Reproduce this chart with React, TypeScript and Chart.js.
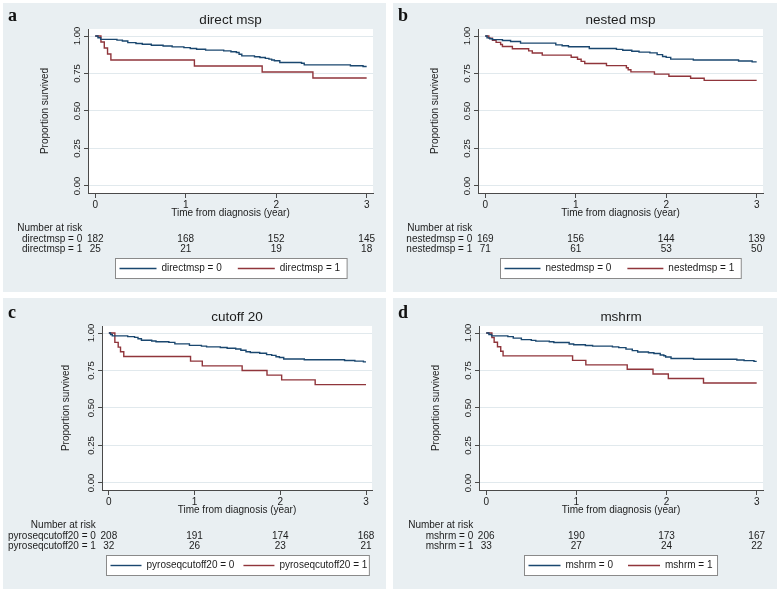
import React, { useEffect, useRef } from "react";
import { Chart, registerables } from "chart.js";
Chart.register(...registerables);

// ---------- shared axis data ----------
const xTicks = [0, 1, 2, 3];
const yTicks = [0, 0.25, 0.5, 0.75, 1];
const riskTimes = [0, 1, 2, 3];
const xTitle = "Time from diagnosis (year)";
const yTitle = "Proportion survived";
const riskHeader = "Number at risk";

// ---------- panel a ----------
const aTitle = "direct msp";
const aLabels = ["directmsp = 0", "directmsp = 1"];
const aBlue = [[0,1],[0.03,0.989],[0.06,0.978],[0.24,0.973],[0.30,0.967],[0.36,0.956],[0.45,0.950],[0.52,0.945],[0.62,0.939],[0.75,0.934],[0.85,0.928],[0.98,0.923],[1.05,0.917],[1.12,0.912],[1.22,0.906],[1.42,0.901],[1.50,0.895],[1.56,0.890],[1.59,0.879],[1.62,0.868],[1.76,0.862],[1.82,0.857],[1.88,0.851],[1.92,0.846],[1.95,0.840],[1.98,0.835],[2.04,0.824],[2.28,0.819],[2.31,0.808],[2.82,0.802],[2.96,0.797],[3.0,0.797]];
const aRed = [[0,1],[0.063,0.96],[0.10,0.92],[0.136,0.88],[0.173,0.84],[1.096,0.80],[1.845,0.76],[2.406,0.72],[3.0,0.72]];
const aRisk0 = [182, 168, 152, 145];
const aRisk1 = [25, 21, 19, 18];

// ---------- panel b ----------
const bTitle = "nested msp";
const bLabels = ["nestedmsp = 0", "nestedmsp = 1"];
const bBlue = [[0,1],[0.02,0.988],[0.05,0.982],[0.08,0.976],[0.19,0.970],[0.28,0.964],[0.39,0.953],[0.78,0.941],[0.85,0.935],[0.92,0.929],[1.15,0.917],[1.45,0.911],[1.52,0.905],[1.62,0.899],[1.70,0.893],[1.82,0.888],[1.90,0.876],[1.96,0.864],[2.0,0.858],[2.05,0.846],[2.30,0.840],[2.80,0.834],[2.95,0.828],[3.0,0.828]];
const bRed = [[0,1],[0.04,0.986],[0.08,0.972],[0.12,0.958],[0.17,0.944],[0.19,0.930],[0.30,0.915],[0.48,0.901],[0.52,0.887],[0.63,0.873],[0.95,0.859],[1.02,0.845],[1.06,0.831],[1.10,0.817],[1.34,0.803],[1.56,0.789],[1.58,0.775],[1.61,0.761],[1.87,0.746],[2.03,0.732],[2.27,0.718],[2.42,0.704],[3.0,0.704]];
const bRisk0 = [169, 156, 144, 139];
const bRisk1 = [71, 61, 53, 50];

// ---------- panel c ----------
const cTitle = "cutoff 20";
const cLabels = ["pyroseqcutoff20 = 0", "pyroseqcutoff20 = 1"];
const cBlue = [[0,1],[0.02,0.990],[0.04,0.981],[0.22,0.976],[0.30,0.971],[0.34,0.962],[0.38,0.952],[0.50,0.947],[0.55,0.942],[0.70,0.938],[0.77,0.928],[0.94,0.918],[1.08,0.913],[1.14,0.908],[1.30,0.904],[1.38,0.899],[1.48,0.894],[1.54,0.885],[1.60,0.875],[1.65,0.870],[1.76,0.865],[1.84,0.856],[1.90,0.851],[1.95,0.842],[1.99,0.837],[2.04,0.827],[2.28,0.822],[2.75,0.817],[2.87,0.813],[2.97,0.808],[3.0,0.808]];
const cRed = [[0,1],[0.07,0.9375],[0.109,0.906],[0.136,0.875],[0.174,0.844],[0.953,0.8125],[1.09,0.781],[1.555,0.75],[1.845,0.719],[2.016,0.6875],[2.407,0.656],[3.0,0.656]];
const cRisk0 = [208, 191, 174, 168];
const cRisk1 = [32, 26, 23, 21];

// ---------- panel d ----------
const dTitle = "mshrm";
const dLabels = ["mshrm = 0", "mshrm = 1"];
const dBlue = [[0,1],[0.03,0.990],[0.06,0.981],[0.24,0.976],[0.30,0.966],[0.39,0.956],[0.50,0.951],[0.55,0.946],[0.70,0.942],[0.75,0.937],[0.92,0.927],[0.97,0.922],[1.10,0.917],[1.18,0.913],[1.40,0.908],[1.47,0.903],[1.55,0.893],[1.62,0.883],[1.68,0.874],[1.80,0.869],[1.86,0.864],[1.93,0.854],[1.97,0.849],[1.99,0.840],[2.05,0.830],[2.30,0.825],[2.78,0.820],[2.86,0.816],[2.97,0.811],[3.0,0.811]];
const dRed = [[0,1],[0.063,0.970],[0.088,0.939],[0.125,0.909],[0.161,0.879],[0.187,0.848],[0.958,0.818],[1.105,0.788],[1.564,0.758],[1.85,0.727],[2.02,0.697],[2.41,0.667],[3.0,0.667]];
const dRisk0 = [206, 190, 173, 167];
const dRisk1 = [33, 27, 24, 22];

// ---------- styling ----------
const FONT = '"Liberation Sans", Arial, sans-serif';
const BG = "#e9eff2";
const GRID = "#e1e9ed";
const AXIS = "#4a4a4a";
const TEXT = "#1c1c1c";
const BLUE = "#1a476f";
const RED = "#90353b";

type PanelCfg = {
  letter: string; title: string; labels: string[];
  blue: number[][]; red: number[][]; risk0: number[]; risk1: number[];
  left: number; top: number; w: number; h: number;
  chartLeft: number; chartRight: number; dy: number; yAxisW: number;
  keyLen: number; itemGap: number; padR: number;
};

const panels: PanelCfg[] = [
  { letter: "a", title: aTitle, labels: aLabels, blue: aBlue, red: aRed, risk0: aRisk0, risk1: aRisk1, left: 3, top: 3, w: 383, h: 289, chartLeft: 85, chartRight: 370, dy: 0, yAxisW: 49, keyLen: 37, itemGap: 16, padR: 7 },
  { letter: "b", title: bTitle, labels: bLabels, blue: bBlue, red: bRed, risk0: bRisk0, risk1: bRisk1, left: 393, top: 3, w: 384, h: 289, chartLeft: 85, chartRight: 370, dy: 0, yAxisW: 49, keyLen: 36, itemGap: 16, padR: 7 },
  { letter: "c", title: cTitle, labels: cLabels, blue: cBlue, red: cRed, risk0: cRisk0, risk1: cRisk1, left: 3, top: 298, w: 383, h: 291, chartLeft: 99, chartRight: 369, dy: 2, yAxisW: 42, keyLen: 31, itemGap: 9, padR: 2 },
  { letter: "d", title: dTitle, labels: dLabels, blue: dBlue, red: dRed, risk0: dRisk0, risk1: dRisk1, left: 393, top: 298, w: 384, h: 291, chartLeft: 86, chartRight: 370, dy: 2, yAxisW: 49, keyLen: 32, itemGap: 15, padR: 5 },
];

const decoPlugin = {
  id: "kmDeco",
  beforeDraw(chart: any) {
    const { ctx, chartArea: ca, width, height } = chart;
    ctx.save();
    ctx.fillStyle = BG;
    ctx.fillRect(0, 0, width, height);
    ctx.fillStyle = "#ffffff";
    ctx.fillRect(ca.left, ca.top, ca.right - ca.left, ca.bottom - ca.top);
    ctx.restore();
  },
  afterDraw(chart: any, _args: any, opts: any) {
    const { ctx, chartArea: ca } = chart;
    const xs = chart.scales.x;
    ctx.save();
    // panel letter
    ctx.font = 'bold 18px "Liberation Serif", "Times New Roman", serif';
    ctx.fillStyle = "#111";
    ctx.textAlign = "left";
    ctx.textBaseline = "alphabetic";
    ctx.fillText(opts.letter, 5, 18 + opts.dy);

    // number at risk table
    ctx.font = `10px ${FONT}`;
    ctx.fillStyle = TEXT;
    ctx.textBaseline = "middle";
    const labX = xs.getPixelForValue(0) - 13;
    ctx.textAlign = "right";
    ctx.fillText(riskHeader, labX, ca.bottom + 35);
    const rows = [opts.risk0, opts.risk1];
    rows.forEach((vals: number[], i: number) => {
      const y = ca.bottom + 46 + i * 10.5;
      ctx.textAlign = "right";
      ctx.fillText(chart.data.datasets[i].label, labX, y);
      ctx.textAlign = "center";
      vals.forEach((v, j) => ctx.fillText(String(v), xs.getPixelForValue(riskTimes[j]), y));
    });

    // legend box
    const ds = chart.data.datasets;
    const lineLen = opts.keyLen, gap = 5, itemGap = opts.itemGap, padL = 4, padR = opts.padR;
    const w0 = ctx.measureText(ds[0].label).width;
    const w1 = ctx.measureText(ds[1].label).width;
    const boxW = padL + lineLen + gap + w0 + itemGap + lineLen + gap + w1 + padR;
    const cx = (ca.left + ca.right) / 2;
    const bx = Math.round(cx - boxW / 2) + 0.5;
    const by = Math.round(ca.bottom + 65) + 0.5;
    const bh = 20;
    ctx.fillStyle = "#ffffff";
    ctx.fillRect(bx, by, boxW, bh);
    ctx.strokeStyle = "#8a8a8a";
    ctx.lineWidth = 1;
    ctx.strokeRect(bx, by, boxW, bh);
    let x = bx + padL;
    const ly = by + bh / 2;
    [0, 1].forEach((k) => {
      ctx.strokeStyle = ds[k].borderColor;
      ctx.lineWidth = 1.4;
      ctx.beginPath();
      ctx.moveTo(x, ly);
      ctx.lineTo(x + lineLen, ly);
      ctx.stroke();
      x += lineLen + gap;
      ctx.fillStyle = TEXT;
      ctx.textAlign = "left";
      ctx.fillText(ds[k].label, x, ly);
      x += (k === 0 ? w0 : w1) + itemGap;
    });
    ctx.restore();
  },
};

function KMPanel({ cfg }: { cfg: PanelCfg }) {
  const ref = useRef<HTMLCanvasElement>(null);
  useEffect(() => {
    if (!ref.current) return;
    const tickFont = { family: FONT, size: 10 };
    const chart = new Chart(ref.current, {
      type: "line",
      data: {
        datasets: [
          { label: cfg.labels[0], data: cfg.blue.map(([x, y]) => ({ x, y })), borderColor: BLUE, backgroundColor: BLUE, borderWidth: 1.4, pointRadius: 0, stepped: "before", fill: false },
          { label: cfg.labels[1], data: cfg.red.map(([x, y]) => ({ x, y })), borderColor: RED, backgroundColor: RED, borderWidth: 1.4, pointRadius: 0, stepped: "before", fill: false },
        ],
      },
      options: {
        animation: false,
        responsive: false,
        events: [],
        layout: { padding: { left: cfg.chartLeft - cfg.yAxisW, right: cfg.w - cfg.chartRight, top: cfg.dy, bottom: 73 } },
        plugins: {
          legend: { display: false },
          tooltip: { enabled: false },
          title: { display: true, text: cfg.title, fullSize: false, color: TEXT, font: { family: FONT, size: 13.5, weight: "normal" }, padding: { top: 9, bottom: 0.8 } },
          kmDeco: { letter: cfg.letter, risk0: cfg.risk0, risk1: cfg.risk1, dy: cfg.dy, keyLen: cfg.keyLen, itemGap: cfg.itemGap, padR: cfg.padR },
        } as any,
        scales: {
          x: {
            type: "linear", min: -0.08, max: 3.07,
            afterBuildTicks: (s: any) => { s.ticks = xTicks.map((v) => ({ value: v })); },
            afterFit: (s: any) => { s.height = 26; },
            ticks: { font: tickFont, color: TEXT, padding: 1, autoSkip: false, maxRotation: 0, callback: (v: any) => String(v) },
            grid: { drawOnChartArea: false, drawTicks: true, tickLength: 5, tickColor: AXIS, color: AXIS },
            border: { display: true, color: AXIS, width: 1 },
            title: { display: true, text: xTitle, color: TEXT, font: { family: FONT, size: 10 }, padding: { top: 0, bottom: 0 } },
          },
          y: {
            type: "linear", min: -0.047, max: 1.047,
            afterBuildTicks: (s: any) => { s.ticks = yTicks.map((v) => ({ value: v })); },
            afterFit: (s: any) => { s.width = cfg.yAxisW; },
            ticks: { font: { family: FONT, size: 9.5 }, color: TEXT, autoSkip: false, minRotation: 90, maxRotation: 90, crossAlign: "center", padding: -2.5, callback: (v: any) => Number(v).toFixed(2) },
            grid: { color: GRID, drawTicks: true, tickLength: 4, tickColor: AXIS },
            border: { display: true, color: AXIS, width: 1 },
            title: { display: true, text: yTitle, color: TEXT, font: { family: FONT, size: 10 }, padding: { top: 0, bottom: 0 } },
          },
        },
      } as any,
      plugins: [decoPlugin],
    });
    return () => chart.destroy();
  }, []);
  return (
    <div style={{ position: "absolute", left: cfg.left, top: cfg.top, width: cfg.w, height: cfg.h }}>
      <canvas ref={ref} width={cfg.w} height={cfg.h} style={{ display: "block", width: cfg.w, height: cfg.h }} />
    </div>
  );
}

export default function App() {
  return (
    <div style={{ position: "absolute", left: 0, top: 0, width: 778, height: 591, background: "#ffffff", overflow: "hidden" }}>
      {panels.map((p) => (
        <KMPanel key={p.letter} cfg={p} />
      ))}
    </div>
  );
}
